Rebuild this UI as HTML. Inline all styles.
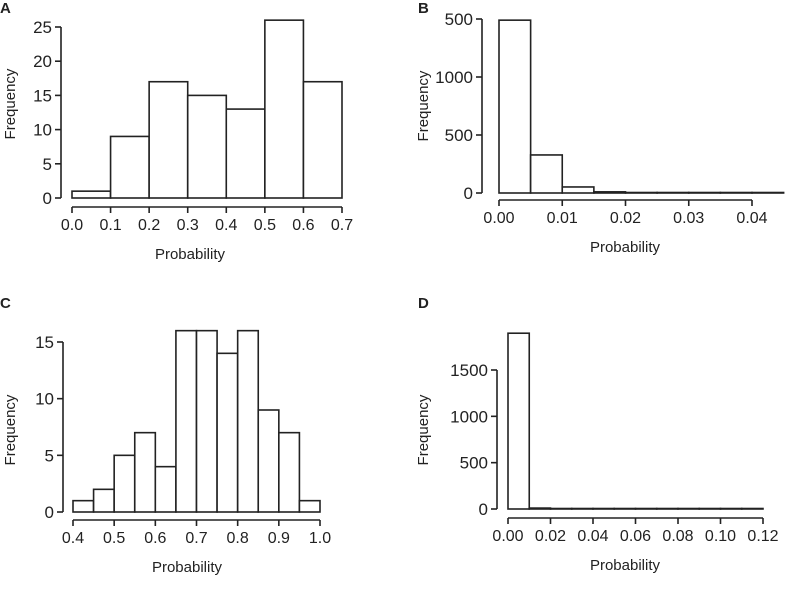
<!DOCTYPE html>
<html><head><meta charset="utf-8"><style>
body{margin:0;background:#fff;}
svg text{font-family:"Liberation Sans",sans-serif;fill:#222;}
</style></head><body>
<svg id="s" width="785" height="585" viewBox="0 0 785 585"></svg>
<script>
// Panel A
const aBins=[0,0.1,0.2,0.3,0.4,0.5,0.6,0.7];
const aCounts=[1,9,17,15,13,26,17];
const aXTicks=[0,0.1,0.2,0.3,0.4,0.5,0.6,0.7];
const aXLabels=["0.0","0.1","0.2","0.3","0.4","0.5","0.6","0.7"];
const aYTicks=[0,5,10,15,20,25];
const aYLabels=["0","5","10","15","20","25"];
// Panel B
const bBins=[0,0.005,0.01,0.015,0.02,0.025,0.03,0.035,0.04,0.045];
const bCounts=[1490,328,52,10,3,2,1,1,1];
const bXTicks=[0,0.01,0.02,0.03,0.04];
const bXLabels=["0.00","0.01","0.02","0.03","0.04"];
const bYTicks=[0,500,1000,1500];
const bYLabels=["0","500","1000","500"];
// Panel C
const cBins=[0.4,0.45,0.5,0.55,0.6,0.65,0.7,0.75,0.8,0.85,0.9,0.95,1.0];
const cCounts=[1,2,5,7,4,16,16,14,16,9,7,1];
const cXTicks=[0.4,0.5,0.6,0.7,0.8,0.9,1.0];
const cXLabels=["0.4","0.5","0.6","0.7","0.8","0.9","1.0"];
const cYTicks=[0,5,10,15];
const cYLabels=["0","5","10","15"];
// Panel D
const dBins=[0,0.01,0.02,0.03,0.04,0.05,0.06,0.07,0.08,0.09,0.10,0.11,0.12];
const dCounts=[1897,10,2,1,1,0,0,0,0,0,0,0];
const dXTicks=[0,0.02,0.04,0.06,0.08,0.10,0.12];
const dXLabels=["0.00","0.02","0.04","0.06","0.08","0.10","0.12"];
const dYTicks=[0,500,1000,1500];
const dYLabels=["0","500","1000","1500"];

const NS="http://www.w3.org/2000/svg";
const svg=document.getElementById('s');
function mk(tag,attrs,parent){const e=document.createElementNS(NS,tag);for(const k in attrs)e.setAttribute(k,attrs[k]);(parent||svg).appendChild(e);return e;}

function panel(o){
  const g=mk('g',{});
  
  
  const X=v=>o.x0+(v-o.xv0)/(o.xv1-o.xv0)*(o.x1-o.x0);
  const Y=v=>o.y0+(v-o.yv0)/(o.yv1-o.yv0)*(o.y1-o.y0);
  for(let i=0;i<o.counts.length;i++){
    const xa=X(o.bins[i]),xb=X(o.bins[i+1]),yt=Y(o.counts[i]),yb=Y(0);
    const r=mk('rect',{x:xa,y:Math.min(yt,yb-0.5),width:xb-xa,height:Math.max(yb-yt,0.5),fill:'#fff',stroke:'#222','stroke-width':1.6},g);
    
    
  }
  const ya=mk('g',{},g);
  
  
  const yT=o.yTicks;
  mk('line',{x1:o.ax,x2:o.ax,y1:Y(yT[0]),y2:Y(yT[yT.length-1]),stroke:'#222','stroke-width':1.6},ya);
  yT.forEach((v,i)=>{
    mk('line',{x1:o.ax-6,x2:o.ax,y1:Y(v),y2:Y(v),stroke:'#222','stroke-width':1.6},ya);
    const t=mk('text',{x:o.ax-9,y:Y(v)+6,'text-anchor':'end','font-size':17},ya);t.textContent=o.yLabels[i];
  });
  const xa=mk('g',{},g);
  
  
  const xT=o.xTicks;
  mk('line',{x1:X(xT[0]),x2:X(xT[xT.length-1]),y1:o.ay,y2:o.ay,stroke:'#222','stroke-width':1.6},xa);
  xT.forEach((v,i)=>{
    mk('line',{x1:X(v),x2:X(v),y1:o.ay,y2:o.ay+6,stroke:'#222','stroke-width':1.6},xa);
    const t=mk('text',{x:X(v),y:o.ay+23,'text-anchor':'middle','font-size':16},xa);t.textContent=o.xLabels[i];
  });
  const xt=mk('text',{x:o.xtx,y:o.ay+52,'text-anchor':'middle','font-size':15},g);xt.textContent='Probability';
  
  const yt=mk('text',{x:0,y:0,'text-anchor':'middle','font-size':15,transform:`translate(${o.ytx},${o.yty}) rotate(-90)`},g);yt.textContent='Frequency';
  
  const pl=mk('text',{x:o.lx,y:o.ly,'font-size':15,'font-weight':'bold'},g);pl.textContent=o.id.toUpperCase();
  
}
panel({id:'a',bins:aBins,counts:aCounts,xTicks:aXTicks,xLabels:aXLabels,yTicks:aYTicks,yLabels:aYLabels,
  xv0:0,xv1:0.7,x0:72,x1:342,yv0:0,yv1:25,y0:198,y1:27,ax:61,ay:207,xtx:190,ytx:15,yty:104,lx:0,ly:13});
panel({id:'b',bins:bBins,counts:bCounts,xTicks:bXTicks,xLabels:bXLabels,yTicks:bYTicks,yLabels:bYLabels,
  xv0:0,xv1:0.04,x0:499,x1:752,yv0:0,yv1:1500,y0:193,y1:19,ax:482,ay:200,xtx:625,ytx:428,yty:106,lx:418,ly:13});
panel({id:'c',bins:cBins,counts:cCounts,xTicks:cXTicks,xLabels:cXLabels,yTicks:cYTicks,yLabels:cYLabels,
  xv0:0.4,xv1:1.0,x0:73,x1:320,yv0:0,yv1:15,y0:512,y1:342,ax:63,ay:520,xtx:187,ytx:15,yty:430,lx:0,ly:308});
panel({id:'d',bins:dBins,counts:dCounts,xTicks:dXTicks,xLabels:dXLabels,yTicks:dYTicks,yLabels:dYLabels,
  xv0:0,xv1:0.12,x0:508,x1:763,yv0:0,yv1:1500,y0:509,y1:370,ax:497,ay:518,xtx:625,ytx:428,yty:430,lx:418,ly:308});
</script>
</body></html>
